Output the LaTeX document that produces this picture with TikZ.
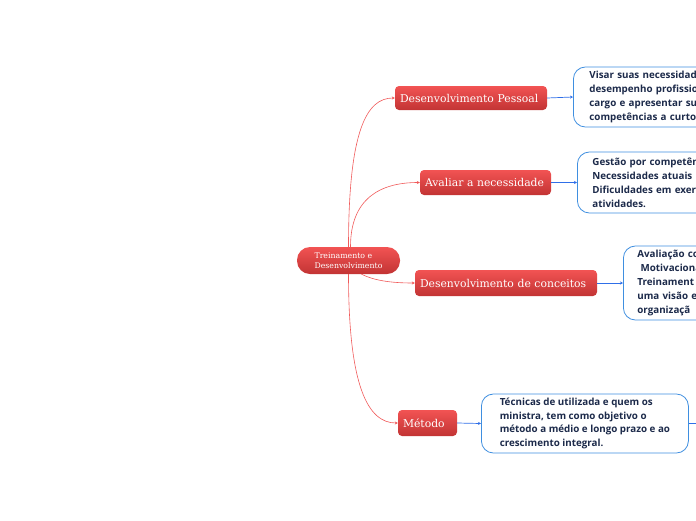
\documentclass[tikz,border=0pt]{standalone}
\usepackage{fontspec}
\usepackage{tikz}
\usetikzlibrary{arrows.meta,positioning}

\newfontfamily\topicfont{DejaVu Serif}
\newfontfamily\rootfont{DejaVu Serif}
\newfontfamily\leaffont{Open Sans}

\definecolor{redtop}{HTML}{F25353}
\definecolor{redbot}{HTML}{C23434}
\definecolor{redline}{HTML}{F05A5A}
\definecolor{leafblue}{HTML}{3F8FE0}
\definecolor{blueline}{HTML}{2F6FE8}
\definecolor{leafink}{HTML}{1C2A4A}

\begin{document}
\begin{tikzpicture}[
  x=1pt, y=-1pt,
  topic/.style={rectangle, rounded corners=4pt, top color=redtop, bottom color=redbot,
    text=white, font=\topicfont\fontsize{10.8}{12}\selectfont, inner xsep=5pt, inner ysep=0pt,
    align=left},
  rootbox/.style={topic, rounded corners=13pt, minimum width=103pt, minimum height=27pt,
    font=\rootfont\fontsize{7.8}{9.5}\selectfont, inner xsep=0pt},
  leaf/.style={rectangle, draw=leafblue, line width=0.8pt, fill=white, rounded corners=12pt,
    text=leafink, font=\leaffont\bfseries\fontsize{9.8}{14}\selectfont, align=left,
    anchor=west, inner ysep=0pt},
  redarr/.style={redline, line width=0.6pt, -{Stealth[length=3pt,width=3pt]}},
  bluearr/.style={blueline, line width=0.7pt, -{Stealth[length=3pt,width=3pt]}},
]
\useasboundingbox (0,0) rectangle (696,520);
\clip (0,0) rectangle (696,520);

%% central topic
\node[rootbox] (root) at (348.5,260.5) {Treinamento e\\Desenvolvimento};

%% main topics
\node[topic, text width=142pt, minimum height=24pt] (pessoal) at (471,98) {Desenvolvimento Pessoal};
\node[topic, text width=121pt, minimum height=25pt] (avaliar) at (485.5,182.5) {Avaliar a necessidade};
\node[topic, text width=172pt, minimum height=26pt] (conceitos) at (506,283) {Desenvolvimento de conceitos};
\node[topic, text width=49pt, minimum height=26pt] (metodo) at (427.5,423) {Método};

%% leaves (cut by the right edge)
\node[leaf, text width=180pt, inner xsep=16pt, minimum height=60pt] (leafA) at (573,97)
  {Visar suas necessidad\\desempenho profissio\\cargo e apresentar su\\competências a curto};
\node[leaf, text width=180pt, inner xsep=15pt, minimum height=61pt] (leafB) at (577,182.5)
  {Gestão por competên\\Necessidades atuais\\Dificuldades em exer\\atividades.};
\node[leaf, text width=180pt, inner xsep=14pt, minimum height=74pt] (leafC) at (623,283)
  {Avaliação co\\\ Motivaciona\\Treinament\\uma visão e\\organizaçã};
\node[leaf, minimum width=207pt, minimum height=59pt, inner xsep=0pt,
  font=\leaffont\bfseries\fontsize{9.8}{13.7}\selectfont] (leafD) at (481,423.5)
  {Técnicas de utilizada e quem os\\ministra, tem como objetivo o\\método a médio e longo prazo e ao\\crescimento integral.};
\coordinate (leafDout) at (710,423.5);

%% red branches
\draw[redarr] (root.north) .. controls +(0,-117) and +(-28,0) .. (pessoal.west);
\draw[redarr] ([xshift=2]root.north) .. controls +(0,-48) and +(-40,0) .. (avaliar.west);
\draw[redarr] ([xshift=13]root.south) .. controls +(12,6) and +(-25,0) .. (conceitos.west);
\draw[redarr] (root.south) .. controls +(0,112) and +(-30,0) .. (metodo.west);

%% blue branches
\draw[bluearr] (pessoal.east) -- (leafA.west);
\draw[bluearr] (avaliar.east) -- (leafB.west);
\draw[bluearr] (conceitos.east) -- (leafC.west);
\draw[bluearr] (metodo.east) -- (leafD.west);
\draw[blueline, line width=0.7pt] (leafD.east) -- (leafDout);
\end{tikzpicture}
\end{document}
